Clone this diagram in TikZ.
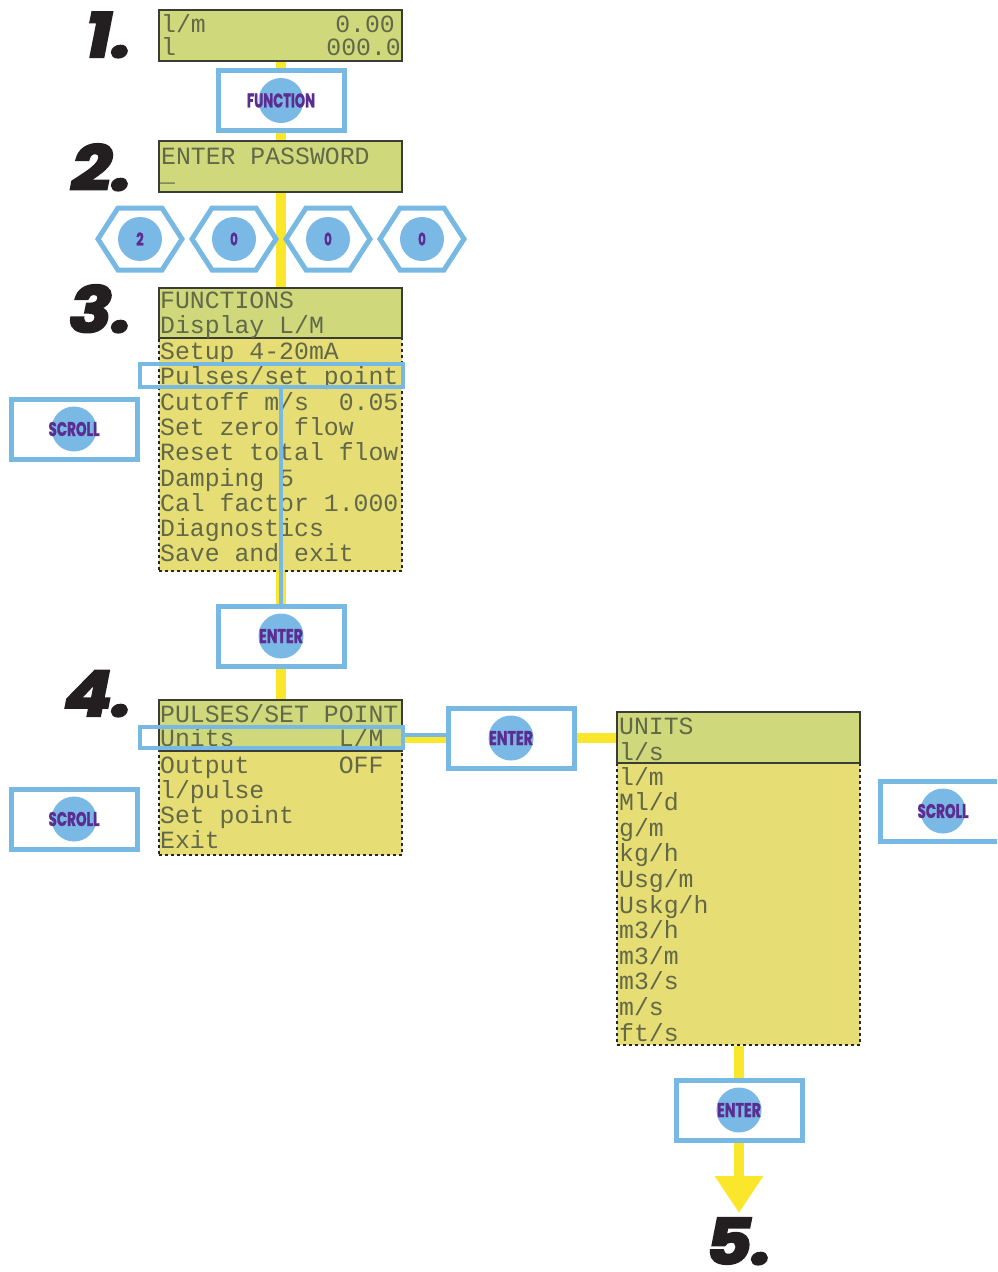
\documentclass[tikz,border=0pt]{standalone}
\usepackage{fontspec}
\usetikzlibrary{arrows.meta}
\newfontfamily\lcdfont{Liberation Mono}
\newfontfamily\keyfont{Poppins}
\newfontfamily\numfont{Poppins}
\definecolor{lcdgreen}{RGB}{207,217,124}
\definecolor{lcdyellow}{RGB}{230,222,116}
\definecolor{lcdedge}{RGB}{60,60,55}
\definecolor{lcdtext}{RGB}{98,104,72}
\definecolor{btnblue}{RGB}{120,185,228}
\definecolor{keyblue}{RGB}{122,185,230}
\definecolor{keytext}{RGB}{92,45,145}
\definecolor{lineyel}{RGB}{250,230,42}
\definecolor{numblack}{RGB}{35,31,32}
\pgfdeclarelayer{bg}
\pgfsetlayers{bg,main}
\newcommand\keylab[3]{\special{pdf:literal direct 2 Tr 0.3 w}\resizebox{#1pt}{#2pt}{#3}\special{pdf:literal direct 0 Tr}}
\newcommand\heavynum[1]{\special{pdf:literal direct 2 Tr 2.2 w}\scalebox{1.12}[1]{#1}\special{pdf:literal direct 0 Tr}}
\begin{document}
\begin{tikzpicture}[x=1pt,y=-1pt,
  lcdhead/.style={rectangle, fill=lcdgreen, draw=lcdedge, line width=1.6pt, minimum width=243pt, minimum height=50pt, inner sep=0pt},
  lcdbody/.style={rectangle, fill=lcdyellow, draw=black!85, line width=2.5pt, dash pattern=on 3pt off 3pt, minimum width=243pt, inner sep=0pt},
  lcd/.style={font=\lcdfont\fontsize{24.8pt}{25pt}\selectfont, text=lcdtext, anchor=base west, inner sep=0pt},
  btnbox/.style={rectangle, draw=btnblue, line width=5pt, fill=white, minimum width=126pt, minimum height=60pt, inner sep=0pt},
  keycirc/.style={circle, fill=keyblue, minimum size=45pt, inner sep=0pt},
  keytxt/.style={font=\keyfont\bfseries\fontsize{19.5pt}{20pt}\selectfont, text=keytext, inner sep=0pt},
  hexline/.style={draw=btnblue, line width=5pt, fill=white, line join=miter},
  hilite/.style={rectangle, draw=btnblue, line width=4pt, minimum width=263pt, inner sep=0pt},
  bluecon/.style={draw=btnblue, line width=4pt},
  yel/.style={draw=lineyel, line width=10pt},
  numlab/.style={font=\numfont\bfseries\itshape\fontsize{63pt}{63pt}\selectfont, text=numblack, anchor=base east, inner sep=0pt}
]
\clip (0,0) rectangle (997,1272);

% ---------- step numbers
\node[numlab] (n1) at (132,57) {\heavynum{1.}};
\node[numlab] (n2) at (132,190) {\heavynum{2.}};
\node[numlab] (n3) at (132,332) {\heavynum{3.}};
\node[numlab] (n4) at (132,716) {\heavynum{4.}};
\node[numlab] (n5) at (772,1264) {\heavynum{5.}};

% ---------- step 1 screen
\node[lcdhead, minimum height=51pt] (s1) at (280.5,35.5) {};
\node[lcd] (t1a) at (161,32) {l/m};
\node[lcd, anchor=base east] (t1b) at (395,32) {0.00};
\node[lcd] (t1c) at (161,55) {l};
\node[lcd, anchor=base east] (t1d) at (401,55) {000.0};

% FUNCTION key
\node[btnbox] (fn) at (281,100) {};
\node[keycirc] (fnc) at (281,100.5) {};
\node[keytxt] (fnt) at (281,100.5) {\keylab{68}{14}{FUNCTION}};

% ---------- step 2 screen
\node[lcdhead, minimum height=51pt] (s2) at (280.5,166.5) {};
\node[lcd] (t2a) at (161,164) {ENTER~PASSWORD};
\node[lcd] (t2b) at (160,181) {\_};

% password keys
\foreach \cx/\dg [count=\i] in {140/2,234/0,328/0,422/0}{
  \coordinate (h\i) at (\cx,239);
  \draw[hexline] (h\i) ++(-42,0) -- ++(20,-31) -- ++(44,0) -- ++(20,31) -- ++(-20,31) -- ++(-44,0) -- cycle;
  \node[keycirc, minimum size=44pt] (k\i) at (h\i) {};
  \node[keytxt] (kt\i) at (h\i) {\keylab{7.5}{13}{\dg}};
}

% ---------- step 3 screen
\node[lcdbody, minimum height=233pt] (s3b) at (280.5,454.5) {};
\node[lcdhead] (s3h) at (280.5,313) {};
\node[lcd] (t3h1) at (160,308) {FUNCTIONS};
\node[lcd] (t3h2) at (160,333) {Display~L/M};
\foreach \txt [count=\i] in {Setup~4-20mA, Pulses/set~point, Cutoff~m/s~~0.05, Set~zero~flow, Reset~total~flow, Damping~5, Cal~factor~1.000, Diagnostics, Save~and~exit}{
  \node[lcd] (t3-\i) at (160,{359.5+25.3*(\i-1)}) {\txt};
}
\node[hilite, minimum height=23pt] (hl3) at (271.5,375.5) {};

% SCROLL key (step 3)
\node[btnbox] (sc1) at (74,429) {};
\node[keycirc] (sc1c) at (74,429) {};
\node[keytxt] (sc1t) at (74,429) {\keylab{51}{14}{SCROLL}};

% ENTER key (step 3 -> 4)
\node[btnbox] (en1) at (281,636) {};
\node[keycirc] (en1c) at (281,636) {};
\node[keytxt] (en1t) at (281,636) {\keylab{44}{14}{ENTER}};

\draw[bluecon] (en1.north |- hl3.south) -- (en1.north);

% ---------- step 4 screen
\node[lcdbody, minimum height=104pt] (s4b) at (280.5,803) {};
\node[lcdhead, minimum height=51pt] (s4h) at (280.5,725.5) {};
\node[lcd] (t4h1) at (160,722) {PULSES/SET~POINT};
\node[lcd] (t4h2) at (160,746) {Units~~~~~~~L/M};
\foreach \txt [count=\i] in {Output~~~~~~OFF, l/pulse, Set~point, Exit}{
  \node[lcd] (t4-\i) at (160,{773+25*(\i-1)}) {\txt};
}
\node[hilite, minimum height=21pt] (hl4) at (271.5,737.5) {};

% SCROLL key (step 4)
\node[btnbox] (sc2) at (74,819) {};
\node[keycirc] (sc2c) at (74,819) {};
\node[keytxt] (sc2t) at (74,819) {\keylab{51}{14}{SCROLL}};

% ENTER key (step 4 -> units)
\node[btnbox] (en2) at (511,738) {};
\node[keycirc] (en2c) at (511,738) {};
\node[keytxt] (en2t) at (511,738) {\keylab{44}{14}{ENTER}};

\draw[bluecon] ([yshift=3pt]hl4.east) -- ([yshift=3pt]hl4.east -| en2.west);

% ---------- units screen
\node[lcdbody, minimum height=282pt] (ub) at (738.5,904) {};
\node[lcdhead, minimum height=51pt] (uh) at (738.5,737.5) {};
\node[lcd] (tuh1) at (619,734) {UNITS};
\node[lcd] (tuh2) at (619,760) {l/s};
\foreach \txt [count=\i] in {l/m, Ml/d, g/m, kg/h, Usg/m, Uskg/h, m3/h, m3/m, m3/s, m/s, ft/s}{
  \node[lcd] (tu-\i) at (619,{785+25.6*(\i-1)}) {\txt};
}

% SCROLL key (units)
\node[btnbox] (sc3) at (943,811) {};
\node[keycirc] (sc3c) at (943,811) {};
\node[keytxt] (sc3t) at (943,811) {\keylab{51}{14}{SCROLL}};

% ENTER key (units -> 5)
\node[btnbox] (en3) at (739,1110) {};
\node[keycirc] (en3c) at (739,1110) {};
\node[keytxt] (en3t) at (739,1110) {\keylab{44}{14}{ENTER}};
\coordinate (tip5) at (739,1213);

% ---------- yellow flow lines (behind)
\begin{pgfonlayer}{bg}
  \draw[yel] (s1.south -| fn.center) -- (s4h.north -| fn.center);
  \draw[yel] (s4h.east |- en2.center) -- (uh.west |- en2.center);
  \draw[yel] (ub.south -| en3.center) -- (en3.center);
  \draw[yel, -{Triangle[width=46pt,length=37pt]}] (en3.center) -- (tip5);
\end{pgfonlayer}
\end{tikzpicture}
\end{document}
